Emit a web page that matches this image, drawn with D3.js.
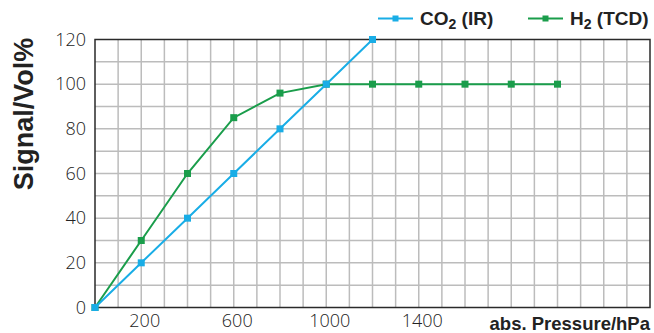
<!DOCTYPE html>
<html>
<head>
<meta charset="utf-8">
<script src="https://cdn.jsdelivr.net/npm/d3@7"></script>
<style>
  html, body { margin: 0; padding: 0; background: #fff; }
  svg { display: block; font-family: "Liberation Sans", Arial, sans-serif; }
</style>
</head>
<body>
<div id="chart"></div>
<script>
// pressure steps (hPa)
const pressure = [0, 200, 400, 600, 800, 1000, 1200, 1400, 1600, 1800, 2000];
const co2Values = [0, 20, 40, 60, 80, 100, 120];
const h2Values = [0, 30, 60, 85, 96, 100, 100, 100, 100, 100, 100];
const yTicks = [0, 20, 40, 60, 80, 100, 120];
const xTicks = [200, 600, 1000, 1400];

const width = 654, height = 333;
const margin = { top: 39.5, right: 4, bottom: 25.5, left: 95 };
const w = width - margin.left - margin.right;
const h = height - margin.top - margin.bottom;

const blue = "#19ade6";
const green = "#1a9d4b";
const tickFont = "'Open Sans', 'Liberation Sans', sans-serif";

const svg = d3.select("#chart").append("svg")
  .attr("width", width)
  .attr("height", height);

const g = svg.append("g")
  .attr("transform", "translate(" + margin.left + "," + margin.top + ")");

const x = d3.scaleLinear().domain([0, 2400]).range([0, w]);
const y = d3.scaleLinear().domain([0, 120]).range([h, 0]);

// grid
g.append("g")
  .selectAll("line")
  .data(d3.range(100, 2400, 100))
  .enter().append("line")
  .attr("x1", d => x(d)).attr("x2", d => x(d))
  .attr("y1", 0).attr("y2", h)
  .attr("stroke", "#bcbcbc").attr("stroke-width", 1.5);

g.append("g")
  .selectAll("line")
  .data(d3.range(10, 120, 10))
  .enter().append("line")
  .attr("x1", 0).attr("x2", w)
  .attr("y1", d => y(d)).attr("y2", d => y(d))
  .attr("stroke", "#bcbcbc").attr("stroke-width", 1.5);

// frame
g.append("rect")
  .attr("width", w).attr("height", h)
  .attr("fill", "none")
  .attr("stroke", "#2a2a2a").attr("stroke-width", 1.5);

// axes labels
const yAxis = g.append("g")
  .call(d3.axisLeft(y).tickValues(yTicks).tickSize(0).tickPadding(9).tickFormat(d3.format("d")));
yAxis.select(".domain").remove();
yAxis.selectAll("text")
  .attr("font-size", 18)
  .attr("font-weight", 300)
  .attr("font-family", tickFont)
  .attr("fill", "#222");

const xAxis = g.append("g")
  .attr("transform", "translate(0," + h + ")")
  .call(d3.axisBottom(x).tickValues(xTicks).tickSize(0).tickPadding(7).tickFormat(d3.format("d")));
xAxis.select(".domain").remove();
xAxis.selectAll("text")
  .attr("font-size", 18)
  .attr("font-weight", 300)
  .attr("font-family", tickFont)
  .attr("dx", 3)
  .attr("fill", "#222");

svg.append("text")
  .attr("x", 650).attr("y", 330)
  .attr("text-anchor", "end")
  .attr("font-size", 18.5).attr("font-weight", "bold")
  .attr("fill", "#222")
  .text("abs. Pressure/hPa");

svg.append("text")
  .attr("transform", "translate(33,114) rotate(-90)")
  .attr("text-anchor", "middle")
  .attr("font-size", 27).attr("font-weight", "bold")
  .attr("fill", "#222")
  .text("Signal/Vol%");

// series
const series = [
  { name: "CO", sub: "2", tail: " (IR)", color: blue, values: co2Values },
  { name: "H", sub: "2", tail: " (TCD)", color: green, values: h2Values }
];

const line = d3.line()
  .x((d, i) => x(pressure[i]))
  .y(d => y(d));

// draw green first so blue sits on top
[series[1], series[0]].forEach(s => {
  g.append("path")
    .datum(s.values)
    .attr("d", line)
    .attr("fill", "none")
    .attr("stroke", s.color)
    .attr("stroke-width", 2);

  g.selectAll(null)
    .data(s.values)
    .enter().append("rect")
    .attr("x", (d, i) => x(pressure[i]) - 3.5)
    .attr("y", d => y(d) - 3.5)
    .attr("width", 7).attr("height", 7)
    .attr("fill", s.color);
});

// legend
const legendX = [378, 528];
series.forEach((s, i) => {
  const lg = svg.append("g").attr("transform", "translate(" + legendX[i] + ",18.5)");
  lg.append("line")
    .attr("x1", 0).attr("x2", 35)
    .attr("stroke", s.color).attr("stroke-width", 2);
  lg.append("rect")
    .attr("x", 14.5).attr("y", -3).attr("width", 6).attr("height", 6)
    .attr("fill", s.color);
  const t = lg.append("text")
    .attr("x", 42).attr("y", 6.5)
    .attr("font-size", 19).attr("font-weight", "bold")
    .attr("fill", "#222");
  t.append("tspan").text(s.name);
  t.append("tspan").attr("dy", 4).attr("font-size", 14).text(s.sub);
  t.append("tspan").attr("dy", -4).text(s.tail);
});
</script>
</body>
</html>
